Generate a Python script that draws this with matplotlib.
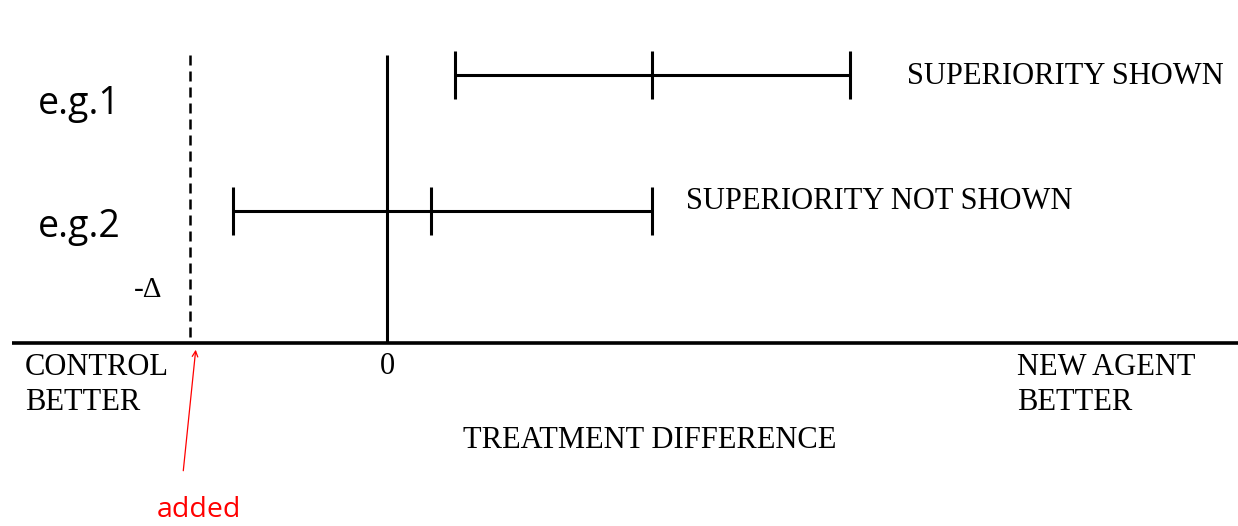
import matplotlib.pyplot as plt
import numpy as np

# intervalos de confianza (diferencia de tratamiento)
ejemplos = ['e.g.1', 'e.g.2']
filas = np.array([1, 2])
inferior = np.array([0.68, -1.54])
estimado = np.array([2.65, 0.44])
superior = np.array([4.63, 2.65])
resultados = ['SUPERIORITY SHOWN', 'SUPERIORITY NOT SHOWN']
margen = -1.97  # -Delta

serif = 'Liberation Serif'
sans = 'Open Sans'

fig = plt.figure(figsize=(12.38, 5.26), dpi=100)
ax = fig.add_axes([0, 0, 1, 1])
ax.set_xlim(-3.87, 8.51)
ax.set_ylim(4.316, 0.449)
ax.axis('off')

base = 2.97
tope = 0.853
medio = 0.176

# eje horizontal
ax.hlines(base, -3.75, 8.51, color='k', lw=2.6)
# linea de cero y margen
ax.vlines(0, tope, base, color='k', lw=2.2)
ax.vlines(margen, tope, base, color='k', lw=1.8, linestyles=(0, (4, 2.4)))

# intervalos
ax.hlines(filas, inferior, superior, color='k', lw=2.2)
for x in (inferior, estimado, superior):
    ax.vlines(x, filas - medio, filas + medio, color='k', lw=2.2)

for yy, nombre in zip([1.21, 2.12], ejemplos):
    ax.text(-3.49, yy, nombre, fontsize=27, family=sans, va='center', ha='left')

ax.text(superior[0] + 0.57, 1.015, resultados[0], fontsize=22, family=serif,
        va='center', ha='left')
ax.text(superior[1] + 0.34, 1.934, resultados[1], fontsize=22, family=serif,
        va='center', ha='left')

ax.text(-2.39, 2.58, '-Δ', fontsize=21, family=serif, ha='center', va='center')
ax.text(0, 3.14, '0', fontsize=22, family=serif, ha='center', va='center')
ax.text(-3.62, 3.28, 'CONTROL\nBETTER', fontsize=22, family=serif, ha='left',
        va='center', linespacing=1.3)
ax.text(6.3, 3.28, 'NEW AGENT\nBETTER', fontsize=22, family=serif, ha='left',
        va='center', linespacing=1.3)
ax.text(2.63, 3.685, 'TREATMENT DIFFERENCE', fontsize=22, family=serif, ha='center',
        va='center')

# anotacion en rojo
ax.annotate('', xy=(margen + 0.06, 3.0), xytext=(margen - 0.07, 3.93),
            arrowprops=dict(arrowstyle='->', color='red', lw=0.9))
ax.text(margen + 0.09, 4.2, 'added', fontsize=20.5, family=sans, color='red',
        ha='center', va='center')

fig.savefig('out.png', dpi=100)
